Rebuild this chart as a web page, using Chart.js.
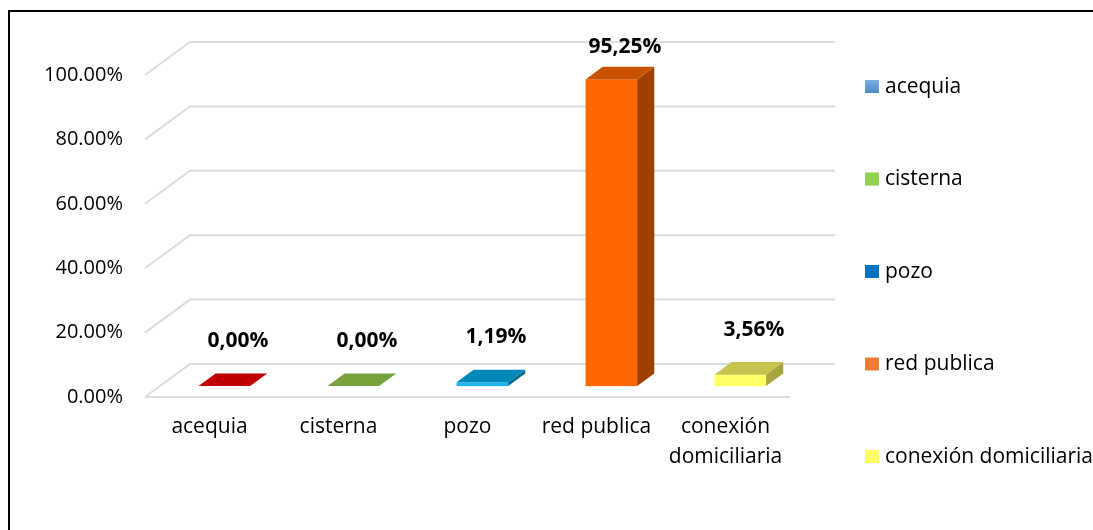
<!DOCTYPE html>
<html><head><meta charset="utf-8">
<script src="https://cdn.jsdelivr.net/npm/chart.js@4.4.1/dist/chart.umd.min.js"></script>
<style>
html,body{margin:0;padding:0;background:#fff;overflow:hidden;width:1093px;height:530px;}
#frame{position:absolute;left:8px;top:10px;width:1300px;height:800px;border:2px solid #000;box-sizing:border-box;}
#wrap{position:absolute;left:0;top:0;width:1093px;height:530px;}
</style></head><body>
<div id="frame"></div>
<div id="wrap"><canvas id="c"></canvas></div>
<script>
// ---- data ----
const categoryLabels = ['acequia', 'cisterna', 'pozo', 'red publica', ['conexión', 'domiciliaria']];
const legendLabels = categoryLabels.map(l => Array.isArray(l) ? l.join(' ') : l);
const values = [0.0, 0.0, 0.0119, 0.9525, 0.0356];
const yMin = 0, yMax = 1, yStep = 0.2;

// ---- styles ----
const frontColors = ['#E00000', '#8CC045', '#1EB4EC', '#FF6600', '#FFFF66'];
const topColors   = ['#C00000', '#77A23B', '#0088B8', '#C85200', '#C4C44E'];
const sideColors  = ['#9A0000', '#5E8230', '#006A90', '#A04000', '#A6A63E'];
const legendColors = ['#5B9BD5', '#92D050', '#0070C0', '#ED7D31', '#FFFF66'];
const DEPTH = {dx: 45, dy: -33};
const BAR_FRONT = 0.33, BAR_BACK = 0.71;
const GRID_COLOR = '#DADDE2';
const FONT = 'Open Sans';

const fmtTick = v => (v * 100).toFixed(2) + '%';
const fmtLabel = v => (v * 100).toFixed(2).replace('.', ',') + '%';

const threeD = {
  id: 'threeD',
  beforeDatasetsDraw(chart) {
    const {ctx, chartArea: a, scales: {y}} = chart;
    ctx.save();
    ctx.strokeStyle = GRID_COLOR;
    ctx.lineWidth = 2;
    y.ticks.forEach(t => {
      const py = y.getPixelForValue(t.value);
      ctx.beginPath();
      ctx.moveTo(a.left, py);
      ctx.lineTo(a.left + DEPTH.dx, py + DEPTH.dy);
      ctx.lineTo(a.right + DEPTH.dx, py + DEPTH.dy);
      ctx.stroke();
    });
    const y0 = y.getPixelForValue(yMin);
    ctx.beginPath();
    ctx.moveTo(a.left, y0);
    ctx.lineTo(a.right, y0);
    ctx.stroke();
    ctx.restore();
  },
  afterDatasetsDraw(chart) {
    const {ctx} = chart;
    const meta = chart.getDatasetMeta(0);
    const fx = DEPTH.dx * BAR_FRONT, fy = DEPTH.dy * BAR_FRONT;
    const ddx = DEPTH.dx * (BAR_BACK - BAR_FRONT), ddy = DEPTH.dy * (BAR_BACK - BAR_FRONT);
    ctx.save();
    meta.data.forEach((bar, i) => {
      const p = bar.getProps(['x', 'y', 'base', 'width'], true);
      const x0 = p.x - p.width / 2 + fx, x1 = p.x + p.width / 2 + fx;
      const t = p.y + fy, b = p.base + fy;
      if (b - t > 0.2) {
        ctx.fillStyle = frontColors[i];
        ctx.fillRect(x0, t, x1 - x0, b - t);
        ctx.fillStyle = sideColors[i];
        ctx.beginPath();
        ctx.moveTo(x1, t); ctx.lineTo(x1 + ddx, t + ddy);
        ctx.lineTo(x1 + ddx, b + ddy); ctx.lineTo(x1, b);
        ctx.closePath(); ctx.fill();
      }
      ctx.fillStyle = topColors[i];
      ctx.beginPath();
      ctx.moveTo(x0, t); ctx.lineTo(x1, t);
      ctx.lineTo(x1 + ddx, t + ddy); ctx.lineTo(x0 + ddx, t + ddy);
      ctx.closePath(); ctx.fill();
      const v = values[i];
      const gap = 33 - 14 * v;
      ctx.fillStyle = '#000';
      ctx.font = 'bold 21px "' + FONT + '"';
      ctx.textAlign = 'center';
      ctx.textBaseline = 'middle';
      ctx.fillText(fmtLabel(v), (x0 + x1 + ddx) / 2 + 5, t + ddy - gap);
    });
    ctx.restore();
  },
  afterDraw(chart) {
    const {ctx, chartArea: a} = chart;
    ctx.save();
    const bx = a.right + 75, top = 87, step = 92.5;
    ctx.font = '21px "' + FONT + '"';
    ctx.textAlign = 'left';
    ctx.textBaseline = 'middle';
    legendLabels.forEach((lab, i) => {
      const cy = top + i * step;
      if (i === 0) {
        const g = ctx.createLinearGradient(0, cy - 7, 0, cy + 7);
        g.addColorStop(0, '#7DB0E0'); g.addColorStop(1, '#4A87C7');
        ctx.fillStyle = g;
      } else ctx.fillStyle = legendColors[i];
      ctx.fillRect(bx, cy - 7, 14, 13);
      ctx.fillStyle = '#000';
      ctx.fillText(lab, bx + 20, cy);
    });
    ctx.restore();
  }
};

new Chart(document.getElementById('c'), {
  type: 'bar',
  data: {
    labels: categoryLabels,
    datasets: [{
      data: values,
      backgroundColor: 'rgba(0,0,0,0)',
      borderWidth: 0,
      barPercentage: 0.4,
      categoryPercentage: 1
    }]
  },
  options: {
    responsive: true,
    maintainAspectRatio: false,
    animation: false,
    layout: {padding: {top: 75, right: 303, left: 0, bottom: 0}},
    plugins: {legend: {display: false}, tooltip: {enabled: false}},
    scales: {
      x: {
        grid: {display: false, drawTicks: false},
        border: {display: false},
        ticks: {font: {family: FONT, size: 21, lineHeight: 1.43}, color: '#000', padding: 15, maxRotation: 0, autoSkip: false},
        afterFit: s => { s.height = 133; }
      },
      y: {
        min: yMin, max: yMax,
        grid: {display: false, drawTicks: false},
        border: {display: false},
        ticks: {stepSize: yStep, callback: v => fmtTick(v), font: {family: FONT, size: 20}, color: '#000', padding: 22},
        afterFit: s => { s.width = 145; }
      }
    }
  },
  plugins: [threeD]
});
</script>
</body></html>
